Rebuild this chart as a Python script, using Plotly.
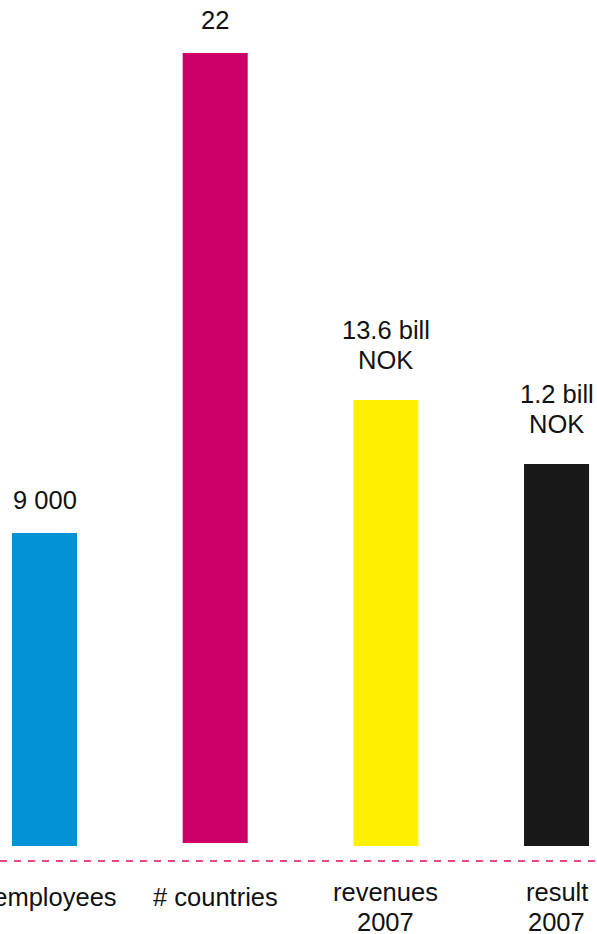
import plotly.graph_objects as go

# Data
categories = ["# employees", "# countries", "revenues<br>2007", "result<br>2007"]
value_labels = ["9 000", "22", "13.6 bill<br>NOK", "1.2 bill<br>NOK"]
bar_heights = [313, 790, 446, 382]   # displayed (non-proportional) bar heights
bar_base = [0, 3, 0, 0]
bar_colors = ["#0092d4", "#cc0066", "#fff100", "#181818"]

FONT = "Liberation Sans, Arial, sans-serif"
FS = 25.5
LINE = 30  # line spacing in px

fig = go.Figure()
fig.add_trace(go.Bar(
    x=list(range(len(categories))),
    y=bar_heights,
    base=bar_base,
    marker=dict(color=bar_colors, line=dict(width=0)),
    width=0.381,
    hoverinfo="skip",
))

annotations = []
# value labels above the bars (one annotation per line for exact spacing)
for i, (lab, h, b) in enumerate(zip(value_labels, bar_heights, bar_base)):
    lines = lab.split("<br>")
    n = len(lines)
    last_gap = 33.5 if n == 1 else 40.5
    for k, ln in enumerate(lines):
        annotations.append(dict(
            x=i, y=h + b, xref="x", yref="y", text=ln, showarrow=False,
            yanchor="middle", xanchor="center",
            yshift=last_gap + (n - 1 - k) * LINE,
            font=dict(family=FONT, size=FS, color="#111111"),
        ))
# category labels under the dashed line
for i, cat in enumerate(categories):
    lines = cat.split("<br>")
    n = len(lines)
    first = -51 if n == 1 else -46
    for k, ln in enumerate(lines):
        annotations.append(dict(
            x=i, y=first - k * LINE, xref="x", yref="y", text=ln,
            showarrow=False, yanchor="middle", xanchor="center",
            font=dict(family=FONT, size=FS, color="#111111"),
        ))

fig.update_layout(
    width=597, height=934,
    margin=dict(l=0, r=0, t=0, b=0),
    paper_bgcolor="white", plot_bgcolor="white",
    showlegend=False,
    xaxis=dict(range=[-0.2607, 3.237], visible=False, fixedrange=True),
    yaxis=dict(range=[-88, 846], visible=False, fixedrange=True),
    annotations=annotations,
    shapes=[dict(
        type="line", xref="paper", yref="y", x0=0, x1=1, y0=-15, y1=-15,
        line=dict(color="#e8468a", width=2, dash="7px,7px"),
    )],
)

fig.write_html("out.html")
